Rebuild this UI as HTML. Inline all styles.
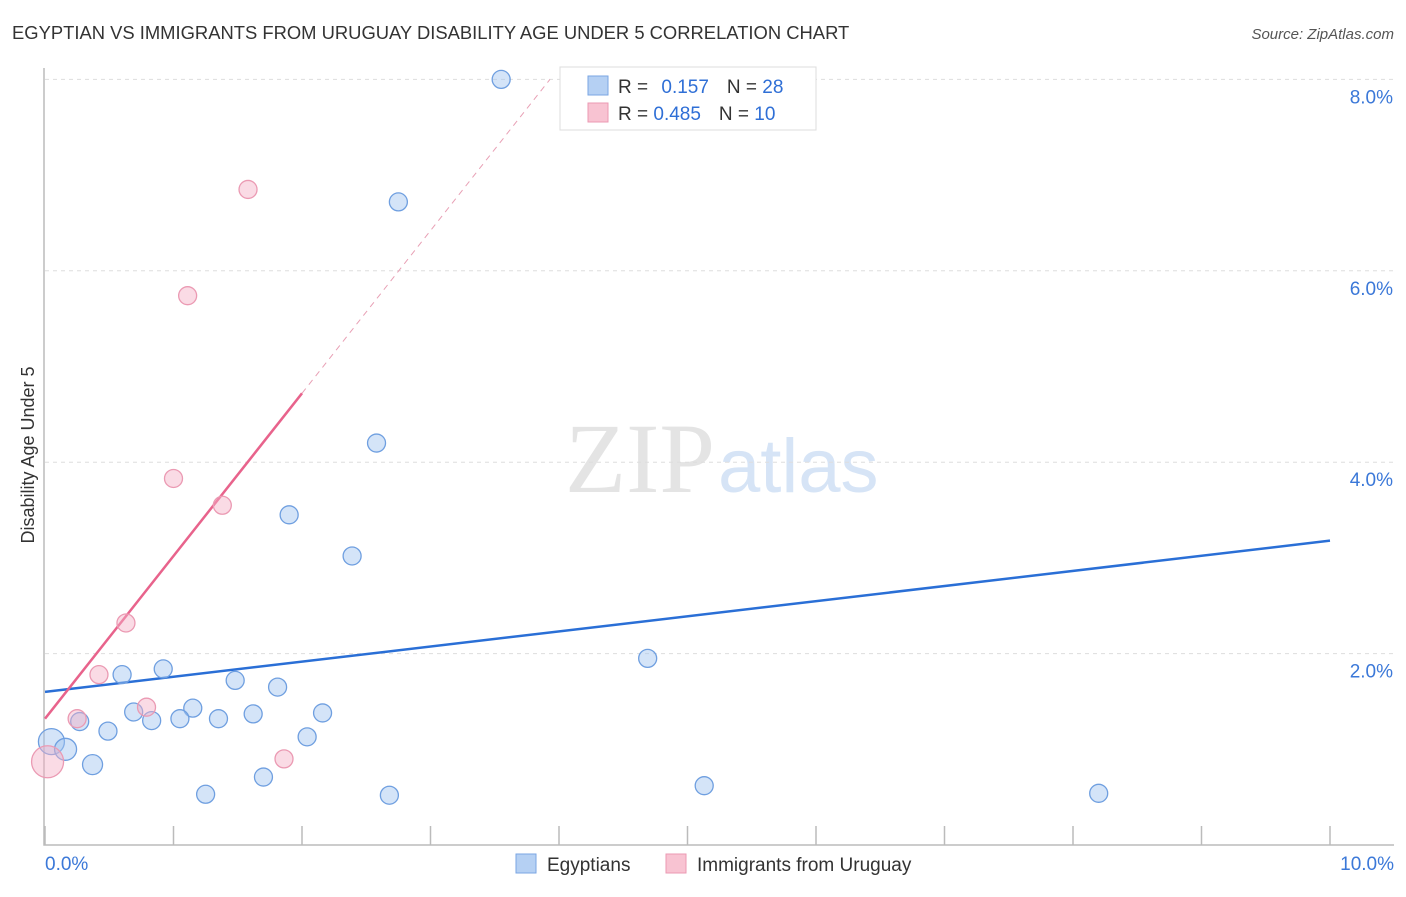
<!DOCTYPE html>
<html><head><meta charset="utf-8"><style>
body{margin:0;background:#fff;font-family:"Liberation Sans",sans-serif}
</style></head><body>
<svg width="1406" height="892" xmlns="http://www.w3.org/2000/svg" id="chart" style="font-family:'Liberation Sans',sans-serif">
<text x="12" y="39" font-size="18.4" fill="#333">EGYPTIAN VS IMMIGRANTS FROM URUGUAY DISABILITY AGE UNDER 5 CORRELATION CHART</text>
<text x="1394" y="39" font-size="15" fill="#555" font-style="italic" text-anchor="end">Source: ZipAtlas.com</text>
<text x="715" y="492" font-size="100" fill="#e4e4e4" text-anchor="end" font-family="Liberation Serif">ZIP</text>
<text x="718" y="492" font-size="76" fill="#d6e4f6">atlas</text>
<text transform="translate(34,455) rotate(-90)" font-size="18" fill="#333" text-anchor="middle">Disability Age Under 5</text>
<g id="grid"></g><g id="axes"></g><g id="lines"></g><g id="points"></g>
<g>
<rect x="560" y="67" width="256" height="63" fill="#fff" stroke="#ddd"/>
<rect x="588" y="76" width="20" height="19" fill="#b5d0f3" stroke="#7aa6e3"/>
<rect x="588" y="103" width="20" height="19" fill="#f8c3d2" stroke="#eb9ab3"/>
<text x="618" y="93" font-size="19" fill="#333">R = <tspan fill="#2f6fd6" dx="8">0.157</tspan><tspan dx="18" fill="#333">N = </tspan><tspan fill="#2f6fd6">28</tspan></text>
<text x="618" y="120" font-size="19" fill="#333">R = <tspan fill="#2f6fd6">0.485</tspan><tspan dx="18" fill="#333">N = </tspan><tspan fill="#2f6fd6">10</tspan></text>
</g>
<g>
<rect x="516" y="854" width="20" height="19" fill="#b5d0f3" stroke="#7aa6e3"/>
<text x="547" y="871" font-size="19" fill="#333">Egyptians</text>
<rect x="666" y="854" width="20" height="19" fill="#f8c3d2" stroke="#eb9ab3"/>
<text x="697" y="871" font-size="19" fill="#333">Immigrants from Uruguay</text>
</g>
</svg>
<script>
const xTicks=[0,1,2,3,4,5,6,7,8,9,10];
const yTicks=[2,4,6,8];
const egX=[3.55,2.75,2.58,1.90,2.39,4.69,0.92,0.60,1.48,1.81,0.69,1.15,2.16,1.62,1.05,1.35,0.83,0.27,0.49,2.04,0.05,0.16,0.37,1.70,1.25,2.68,5.13,8.20];
const egY=[8.0,6.72,4.20,3.45,3.02,1.95,1.84,1.78,1.72,1.65,1.39,1.43,1.38,1.37,1.32,1.32,1.30,1.29,1.19,1.13,1.08,1.00,0.84,0.71,0.53,0.52,0.62,0.54];
const egR=[9,9,9,9,9,9,9,9,9,9,9,9,9,9,9,9,9,9,9,9,13,11,10,9,9,9,9,9];
const urX=[1.58,1.11,1.00,1.38,0.63,0.42,0.79,0.25,1.86,0.02];
const urY=[6.85,5.74,3.83,3.55,2.32,1.78,1.44,1.32,0.90,0.87];
const urR=[9,9,9,9,9,9,9,9,9,16];
const egLine=[1.60,0.158]; // intercept, slope
const urLine=[1.32,1.70];
const sx=v=>45+v*128.5, sy=v=>845-v*95.7;
const NS='http://www.w3.org/2000/svg';
function mk(tag,attrs,parent){const e=document.createElementNS(NS,tag);for(const k in attrs)e.setAttribute(k,attrs[k]);document.getElementById(parent).appendChild(e);return e;}
yTicks.forEach(t=>{
 const g=mk('line',{x1:45,x2:1394,y1:sy(t),y2:sy(t),stroke:'#ddd','stroke-dasharray':'4,4'},'grid');
 
 
 const l=mk('text',{x:1393,y:sy(t)+24,'font-size':19,fill:'#3b78d8','text-anchor':'end'},'grid');
 l.textContent=t.toFixed(1)+'%';
 
 
});
const ax=mk('path',{d:'M44 68 V845 H1394',stroke:'#bbb',fill:'none','stroke-width':1.5},'axes');


xTicks.forEach(t=>{
 const tk=mk('line',{x1:sx(t),x2:sx(t),y1:826,y2:845,stroke:'#bbb','stroke-width':1.5},'axes');
 
 
});
[[0,'start',45],[10,'end',1394]].forEach(([t,a,x])=>{
 const l=mk('text',{x:x,y:870,'font-size':19,fill:'#3b78d8','text-anchor':a},'axes');
 l.textContent=t.toFixed(1)+'%';
 
 
});
const bl=mk('line',{x1:sx(0),y1:sy(egLine[0]),x2:sx(10),y2:sy(egLine[0]+10*egLine[1]),stroke:'#2a6fd6','stroke-width':2.5},'lines');


const xEnd=(8-urLine[0])/urLine[1];
const pd=mk('line',{x1:sx(2),y1:sy(urLine[0]+2*urLine[1]),x2:sx(xEnd),y2:sy(8),stroke:'#e8a0b5','stroke-width':1,'stroke-dasharray':'6,5'},'lines');


const pl=mk('line',{x1:sx(0),y1:sy(urLine[0]),x2:sx(2),y2:sy(urLine[0]+2*urLine[1]),stroke:'#e8638c','stroke-width':2.5},'lines');


egX.forEach((v,i)=>{
 const c=mk('circle',{cx:sx(v),cy:sy(egY[i]),r:egR[i],fill:'rgba(160,195,240,0.45)',stroke:'#6f9fe0','stroke-width':1.3},'points');
 
 
});
urX.forEach((v,i)=>{
 const c=mk('circle',{cx:sx(v),cy:sy(urY[i]),r:urR[i],fill:'rgba(245,175,198,0.45)',stroke:'#eb9ab3','stroke-width':1.3},'points');
 
 
});
</script>
</body></html>
